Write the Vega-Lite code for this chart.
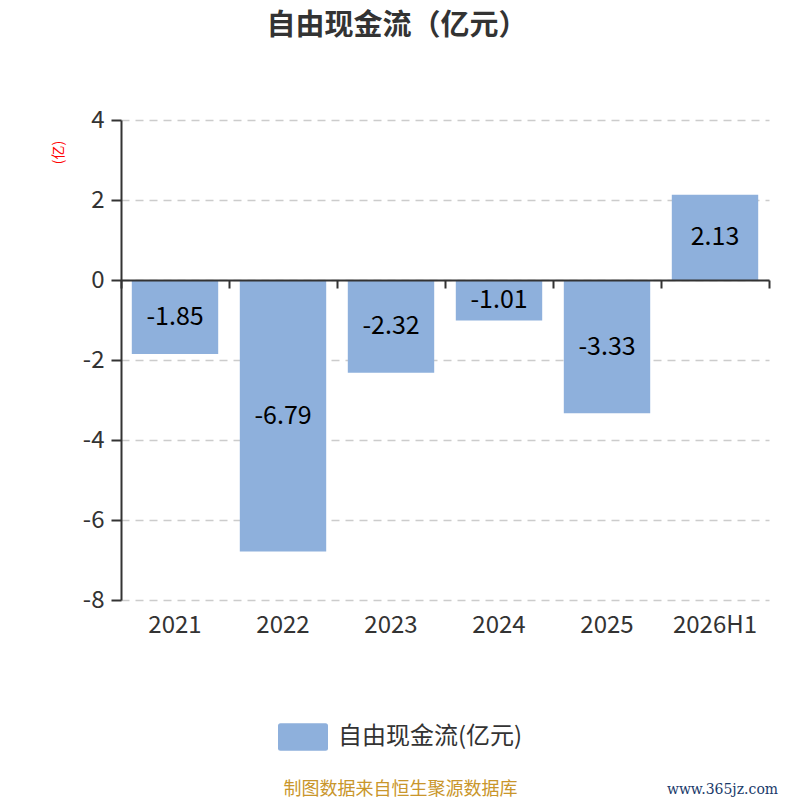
{
  "$schema": "https://vega.github.io/schema/vega-lite/v6.json",
  "autosize": {"type": "none"},
  "width": 648,
  "height": 480,
  "padding": {"left": 121, "top": 120, "right": 31, "bottom": 200},
  "background": "white",
  "title": {
    "text": "自由现金流（亿元）",
    "font": "Noto Sans CJK SC",
    "fontSize": 29,
    "fontWeight": "bold",
    "color": "#333333",
    "anchor": "middle",
    "frame": "group",
    "dx": -48,
    "offset": 67
  },
  "data": {
    "values": [
      {"year": "2021", "value": -1.85},
      {"year": "2022", "value": -6.79},
      {"year": "2023", "value": -2.32},
      {"year": "2024", "value": -1.01},
      {"year": "2025", "value": -3.33},
      {"year": "2026H1", "value": 2.13}
    ]
  },
  "config": {
    "view": {"stroke": null},
    "font": "Noto Sans CJK SC"
  },
  "layer": [
    {
      "mark": {"type": "bar", "color": "#8eb0dc"},
      "encoding": {
        "x": {
          "field": "year",
          "type": "nominal",
          "sort": null,
          "scale": {"paddingInner": 0.2, "paddingOuter": 0.1},
          "axis": {
            "orient": "bottom",
            "domain": false,
            "ticks": false,
            "grid": false,
            "labelAngle": 0,
            "labelFontSize": 24,
            "labelColor": "#333333",
            "labelPadding": 13,
            "title": "制图数据来自恒生聚源数据库",
            "titleFontSize": 18,
            "titleFontWeight": "normal",
            "titleColor": "#c9962b",
            "titleAnchor": null,
            "titleAlign": "center",
            "titleBaseline": "middle",
            "titleX": 279,
            "titleY": 189
          }
        },
        "y": {
          "field": "value",
          "type": "quantitative",
          "scale": {"domain": [-8, 4], "nice": false, "zero": false},
          "axis": {
            "values": [-8, -6, -4, -2, 0, 2, 4],
            "labelExpr": "datum.value + ''",
            "labelFontSize": 24,
            "labelColor": "#333333",
            "labelPadding": 7,
            "tickSize": 10,
            "tickColor": "#333333",
            "tickWidth": 2,
            "domainColor": "#333333",
            "domainWidth": 2,
            "grid": true,
            "gridColor": "#cccccc",
            "gridDash": [8, 6],
            "gridWidth": 1.6,
            "title": "(亿)",
            "titleColor": "#ff0000",
            "titleFontSize": 14,
            "titleFontWeight": "normal",
            "titleAngle": -90,
            "titleAnchor": null,
            "titleAlign": "center",
            "titleBaseline": "middle",
            "titleX": -63,
            "titleY": 32
          }
        },
        "color": {
          "datum": "自由现金流(亿元)",
          "type": "nominal",
          "scale": {"range": ["#8eb0dc"]},
          "legend": {
            "orient": "none",
            "legendX": 157,
            "legendY": 592,
            "title": null,
            "symbolType": "M-0.9,-0.55 L0.9,-0.55 Q1,-0.55 1,-0.45 L1,0.45 Q1,0.55 0.9,0.55 L-0.9,0.55 Q-1,0.55 -1,0.45 L-1,-0.45 Q-1,-0.55 -0.9,-0.55 Z",
            "symbolSize": 2500,
            "symbolStrokeWidth": 0,
            "symbolOpacity": 1,
            "labelFontSize": 24,
            "labelColor": "#333333",
            "labelOffset": 10,
            "labelLimit": 0
          }
        }
      }
    },
    {
      "mark": {"type": "text", "color": "#000000", "fontSize": 25, "baseline": "middle", "align": "center"},
      "encoding": {
        "x": {
          "field": "year",
          "type": "nominal",
          "sort": null,
          "scale": {"paddingInner": 0, "paddingOuter": 0},
          "axis": {
            "orient": "bottom",
            "offset": -320,
            "zindex": 1,
            "labels": false,
            "grid": false,
            "domain": true,
            "domainColor": "#333333",
            "domainWidth": 2,
            "ticks": true,
            "tickBand": "extent",
            "tickSize": 8,
            "tickColor": "#333333",
            "tickWidth": 2,
            "title": "www.365jz.com",
            "titleFont": "DejaVu Serif",
            "titleFontSize": 14,
            "titleFontWeight": "normal",
            "titleColor": "#1a3a6a",
            "titleAnchor": null,
            "titleAlign": "center",
            "titleBaseline": "middle",
            "titleX": 601,
            "titleY": 509
          }
        },
        "y": {
          "field": "value",
          "type": "quantitative",
          "scale": {"domain": [-16, 8], "nice": false, "zero": false},
          "axis": null
        },
        "text": {"field": "value", "type": "nominal"}
      }
    }
  ],
  "resolve": {
    "scale": {"x": "independent", "y": "independent"},
    "axis": {"x": "independent", "y": "independent"}
  }
}
